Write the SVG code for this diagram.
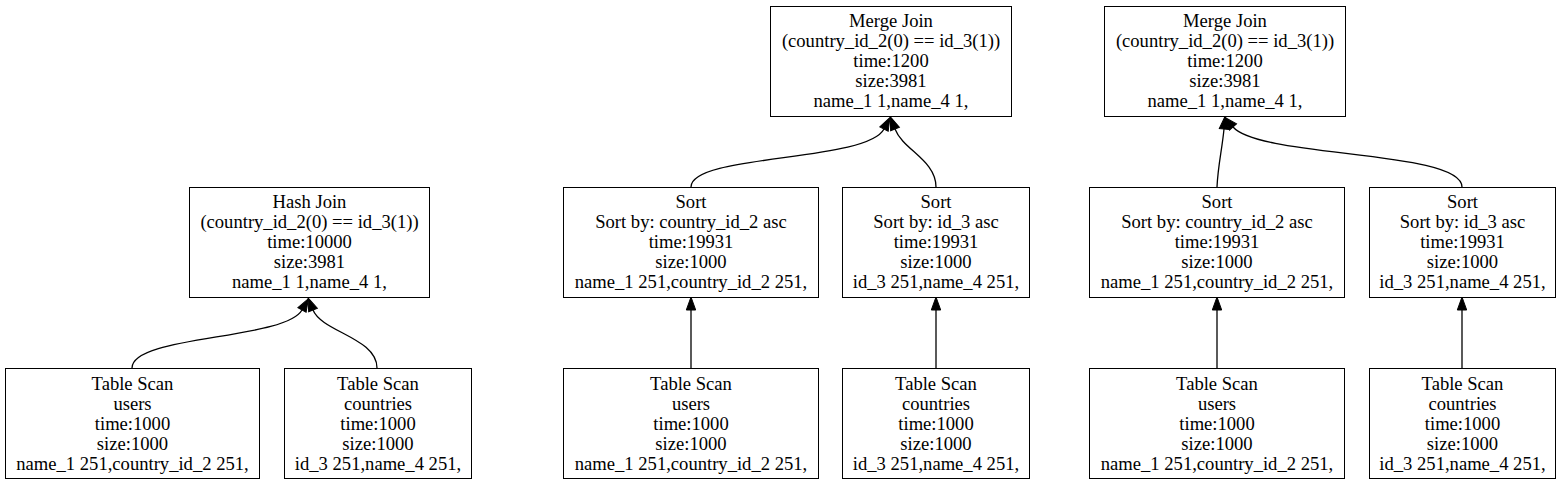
<svg xmlns="http://www.w3.org/2000/svg" width="1561" height="485" viewBox="0 0 1561 485">
<style>
.box{fill:#fff;stroke:#000;stroke-width:1}
.lbl{font-size:18.6px;fill:#000;text-anchor:middle}
.edge{fill:none;stroke:#000;stroke-width:1.3}
</style>
<defs>
<marker id="arr" markerUnits="userSpaceOnUse" markerWidth="14" markerHeight="11" refX="0" refY="5" orient="auto" overflow="visible">
<path d="M0,0.3 L13,5 L0,9.7 z" fill="#000" stroke="#000" stroke-width="1"/>
</marker>
</defs>
<rect x="0" y="0" width="1561" height="485" fill="#fff"/>
<g id="connectors">
<path class="edge" d="M132,368 C132,335 285,340 302,310" marker-end="url(#arr)"/>
<path class="edge" d="M377,368 C377,338 322,332 313,310" marker-end="url(#arr)"/>
<path class="edge" d="M691,187 C691,154 867,162 884,129" marker-end="url(#arr)"/>
<path class="edge" d="M936,187 C936,160 903,150 895,129" marker-end="url(#arr)"/>
<path class="edge" d="M691,368 L691,310" marker-end="url(#arr)"/>
<path class="edge" d="M936,368 L936,310" marker-end="url(#arr)"/>
<path class="edge" d="M1217,187 C1218,165 1222,150 1224,129" marker-end="url(#arr)"/>
<path class="edge" d="M1462,187 C1462,150 1260,158 1233,127" marker-end="url(#arr)"/>
<path class="edge" d="M1217,368 L1217,310" marker-end="url(#arr)"/>
<path class="edge" d="M1462,368 L1462,310" marker-end="url(#arr)"/>
</g>
<g font-family="Liberation Serif, DejaVu Serif, serif">
<g id="hashjoin">
<rect class="box" x="189.5" y="187.5" width="240" height="110"/>
<text class="lbl" y="208"><tspan x="309.5">Hash Join</tspan><tspan x="309.5" dy="20">(country_id_2(0) == id_3(1))</tspan><tspan x="309.5" dy="20">time:10000</tspan><tspan x="309.5" dy="20">size:3981</tspan><tspan x="309.5" dy="20">name_1 1,name_4 1,</tspan></text>
</g>
<g id="scan_users_1">
<rect class="box" x="5.5" y="368.5" width="254" height="110"/>
<text class="lbl" y="390"><tspan x="132.5">Table Scan</tspan><tspan x="132.5" dy="20">users</tspan><tspan x="132.5" dy="20">time:1000</tspan><tspan x="132.5" dy="20">size:1000</tspan><tspan x="132.5" dy="20">name_1 251,country_id_2 251,</tspan></text>
</g>
<g id="scan_countries_1">
<rect class="box" x="284.5" y="368.5" width="187" height="110"/>
<text class="lbl" y="390"><tspan x="378">Table Scan</tspan><tspan x="378" dy="20">countries</tspan><tspan x="378" dy="20">time:1000</tspan><tspan x="378" dy="20">size:1000</tspan><tspan x="378" dy="20">id_3 251,name_4 251,</tspan></text>
</g>
<g id="mergejoin_1">
<rect class="box" x="770.5" y="6.5" width="241" height="110"/>
<text class="lbl" y="27"><tspan x="891">Merge Join</tspan><tspan x="891" dy="20">(country_id_2(0) == id_3(1))</tspan><tspan x="891" dy="20">time:1200</tspan><tspan x="891" dy="20">size:3981</tspan><tspan x="891" dy="20">name_1 1,name_4 1,</tspan></text>
</g>
<g id="sort_1">
<rect class="box" x="563.5" y="187.5" width="255" height="110"/>
<text class="lbl" y="208"><tspan x="691">Sort</tspan><tspan x="691" dy="20">Sort by: country_id_2 asc</tspan><tspan x="691" dy="20">time:19931</tspan><tspan x="691" dy="20">size:1000</tspan><tspan x="691" dy="20">name_1 251,country_id_2 251,</tspan></text>
</g>
<g id="sort_2">
<rect class="box" x="842.5" y="187.5" width="187" height="110"/>
<text class="lbl" y="208"><tspan x="936">Sort</tspan><tspan x="936" dy="20">Sort by: id_3 asc</tspan><tspan x="936" dy="20">time:19931</tspan><tspan x="936" dy="20">size:1000</tspan><tspan x="936" dy="20">id_3 251,name_4 251,</tspan></text>
</g>
<g id="scan_users_2">
<rect class="box" x="563.5" y="368.5" width="255" height="110"/>
<text class="lbl" y="390"><tspan x="691">Table Scan</tspan><tspan x="691" dy="20">users</tspan><tspan x="691" dy="20">time:1000</tspan><tspan x="691" dy="20">size:1000</tspan><tspan x="691" dy="20">name_1 251,country_id_2 251,</tspan></text>
</g>
<g id="scan_countries_2">
<rect class="box" x="842.5" y="368.5" width="187" height="110"/>
<text class="lbl" y="390"><tspan x="936">Table Scan</tspan><tspan x="936" dy="20">countries</tspan><tspan x="936" dy="20">time:1000</tspan><tspan x="936" dy="20">size:1000</tspan><tspan x="936" dy="20">id_3 251,name_4 251,</tspan></text>
</g>
<g id="mergejoin_2">
<rect class="box" x="1104.5" y="6.5" width="241" height="110"/>
<text class="lbl" y="27"><tspan x="1225">Merge Join</tspan><tspan x="1225" dy="20">(country_id_2(0) == id_3(1))</tspan><tspan x="1225" dy="20">time:1200</tspan><tspan x="1225" dy="20">size:3981</tspan><tspan x="1225" dy="20">name_1 1,name_4 1,</tspan></text>
</g>
<g id="sort_3">
<rect class="box" x="1089.5" y="187.5" width="255" height="110"/>
<text class="lbl" y="208"><tspan x="1217">Sort</tspan><tspan x="1217" dy="20">Sort by: country_id_2 asc</tspan><tspan x="1217" dy="20">time:19931</tspan><tspan x="1217" dy="20">size:1000</tspan><tspan x="1217" dy="20">name_1 251,country_id_2 251,</tspan></text>
</g>
<g id="sort_4">
<rect class="box" x="1369.5" y="187.5" width="186" height="110"/>
<text class="lbl" y="208"><tspan x="1462.5">Sort</tspan><tspan x="1462.5" dy="20">Sort by: id_3 asc</tspan><tspan x="1462.5" dy="20">time:19931</tspan><tspan x="1462.5" dy="20">size:1000</tspan><tspan x="1462.5" dy="20">id_3 251,name_4 251,</tspan></text>
</g>
<g id="scan_users_3">
<rect class="box" x="1089.5" y="368.5" width="255" height="110"/>
<text class="lbl" y="390"><tspan x="1217">Table Scan</tspan><tspan x="1217" dy="20">users</tspan><tspan x="1217" dy="20">time:1000</tspan><tspan x="1217" dy="20">size:1000</tspan><tspan x="1217" dy="20">name_1 251,country_id_2 251,</tspan></text>
</g>
<g id="scan_countries_3">
<rect class="box" x="1369.5" y="368.5" width="186" height="110"/>
<text class="lbl" y="390"><tspan x="1462.5">Table Scan</tspan><tspan x="1462.5" dy="20">countries</tspan><tspan x="1462.5" dy="20">time:1000</tspan><tspan x="1462.5" dy="20">size:1000</tspan><tspan x="1462.5" dy="20">id_3 251,name_4 251,</tspan></text>
</g>
</g>
</svg>
